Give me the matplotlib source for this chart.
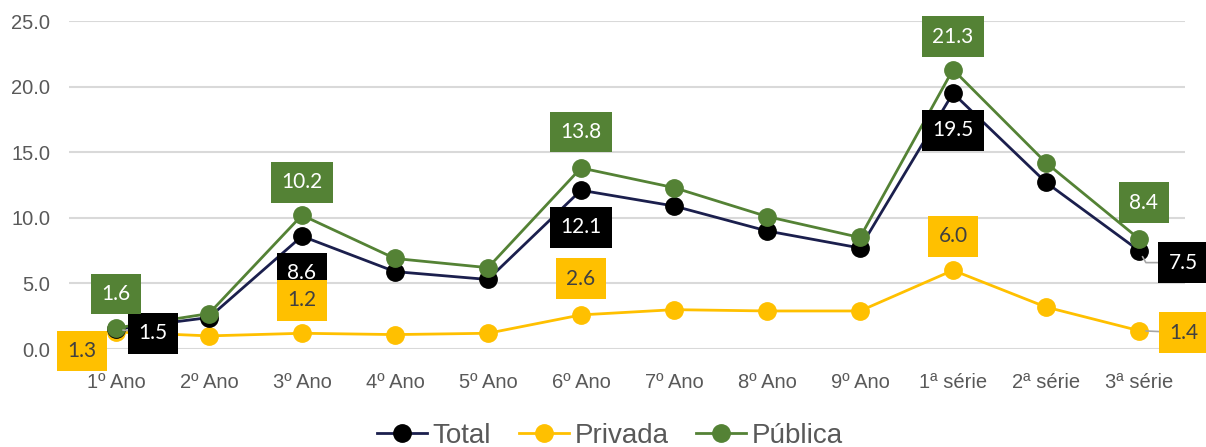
import matplotlib
matplotlib.use("Agg")
from matplotlib import pyplot as plt
from matplotlib.lines import Line2D

plt.rcParams['font.family'] = ['Liberation Sans Narrow', 'Liberation Sans', 'DejaVu Sans']

anos = ['1º Ano', '2º Ano', '3º Ano', '4º Ano', '5º Ano', '6º Ano',
        '7º Ano', '8º Ano', '9º Ano', '1ª série', '2ª série', '3ª série']
total = [1.5, 2.4, 8.6, 5.9, 5.3, 12.1, 10.9, 9.0, 7.7, 19.5, 12.7, 7.5]
privada = [1.3, 1.0, 1.2, 1.1, 1.2, 2.6, 3.0, 2.9, 2.9, 6.0, 3.2, 1.4]
publica = [1.6, 2.7, 10.2, 6.9, 6.2, 13.8, 12.3, 10.1, 8.5, 21.3, 14.2, 8.4]

# which points get a value label, where the box sits (pixel offsets)
# and how a leader line joins it to the point (None = no line)
total_labels = {0: (37, -4, 'arc3'), 2: (0, -37, None), 5: (0, -37, None),
                9: (0, -37, None), 11: (44, -12, 'angle,angleA=0,angleB=-60,rad=0')}
privada_labels = {0: (-34, -19, None), 2: (0, 33, None), 5: (0, 36, None),
                  9: (0, 34, None), 11: (45, -2, 'arc3')}
publica_labels = {0: (0, 34, None), 2: (0, 33, None), 5: (0, 36, None),
                  9: (0, 33, None), 11: (5, 36, None)}

navy = '#1b1f4d'
gold = '#ffc000'
green = '#548235'
grey_text = '#595959'

fig = plt.figure(figsize=(12.06, 4.47), dpi=100)
ax = fig.add_axes([0.0576, 0.2192, 0.9254, 0.7338])
x = range(len(anos))

ax.plot(x, privada, '-o', color=gold, mfc=gold, mec=gold, lw=2, ms=12.5,
        zorder=2, label='Privada')
ax.plot(x, total, '-o', color=navy, mfc='black', mec='black', lw=2, ms=12.5,
        zorder=3, label='Total')
ax.plot(x, publica, '-o', color=green, mfc=green, mec=green, lw=2, ms=12.5,
        zorder=4, label='Pública')


def add_labels(values, spots, fc, tc, z):
    for i, (dx, dy, leader) in spots.items():
        arrow = None
        if leader:
            arrow = dict(arrowstyle='-', color='#a6a6a6', lw=1.2,
                         shrinkA=0, shrinkB=5, connectionstyle=leader)
        ax.annotate(f'{values[i]:.1f}', (i, values[i]), xytext=(dx, dy),
                    textcoords='offset pixels', ha='center', va='center',
                    fontsize=15, family=['Lato', 'DejaVu Sans'], color=tc,
                    bbox=dict(boxstyle='square,pad=0.5', fc=fc, ec='none'),
                    arrowprops=arrow, annotation_clip=False, zorder=z)


add_labels(total, total_labels, 'black', 'white', 6)
add_labels(publica, publica_labels, green, 'white', 7)
add_labels(privada, privada_labels, gold, '#404040', 8)

ax.set_xlim(-0.5, len(anos) - 0.5)
ax.set_ylim(0, 25)
ax.set_yticks([0, 5, 10, 15, 20, 25])
ax.set_yticklabels([f'{v:.1f}' for v in [0, 5, 10, 15, 20, 25]])
ax.set_xticks(list(x))
ax.set_xticklabels(anos)
ax.tick_params(length=0, labelsize=14.5, labelcolor=grey_text)
ax.tick_params(axis='x', pad=17)
ax.tick_params(axis='y', pad=14)
ax.grid(axis='y', color='#d9d9d9', lw=1.5)
ax.set_axisbelow(True)
for s in ax.spines.values():
    s.set_visible(False)

handles = [
    Line2D([], [], color=navy, marker='o', mfc='black', mec='black', lw=2, ms=12.5),
    Line2D([], [], color=gold, marker='o', mfc=gold, mec=gold, lw=2, ms=12.5),
    Line2D([], [], color=green, marker='o', mfc=green, mec=green, lw=2, ms=12.5),
]
fig.legend(handles, ['Total', 'Privada', 'Pública'], loc='center',
           bbox_to_anchor=(0.506, 0.025), ncol=3, frameon=False, fontsize=20,
           labelcolor=grey_text, handlelength=1.8, handletextpad=0.2,
           columnspacing=1.0)

fig.savefig('out.png', dpi=100)
